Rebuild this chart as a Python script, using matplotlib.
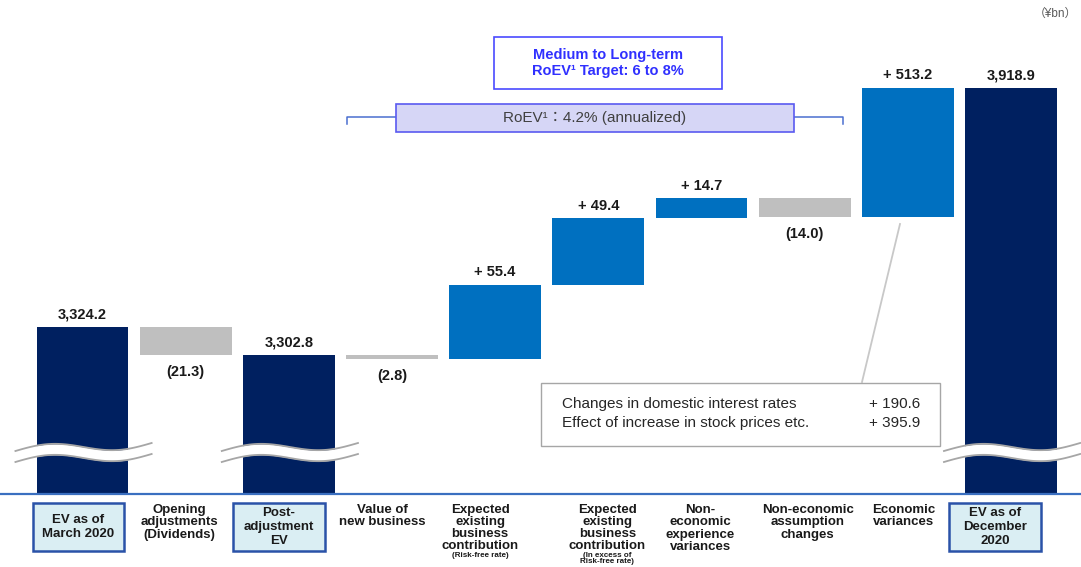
import numpy as np
import matplotlib
matplotlib.use('Agg')
import matplotlib.pyplot as plt
import matplotlib.transforms as mtransforms
from matplotlib.patches import Rectangle

plt.rcParams['font.family'] = ['Liberation Sans', 'Noto Sans CJK JP', 'DejaVu Sans']

# EV movement (¥bn)
categories = ['EV as of\nMarch 2020', 'Opening\nadjustments\n(Dividends)', 'Post-\nadjustment\nEV',
              'Value of\nnew business', 'Expected\nexisting\nbusiness\ncontribution',
              'Expected\nexisting\nbusiness\ncontribution', 'Non-\neconomic\nexperience\nvariances',
              'Non-economic\nassumption\nchanges', 'Economic\nvariances', 'EV as of\nDecember\n2020']
sub_notes = ['', '', '', '', '(Risk-free rate)', '(In excess of\nRisk-free rate)', '', '', '', '']
values = [3324.2, -21.3, 3302.8, -2.8, 55.4, 49.4, 14.7, -14.0, 513.2, 3918.9]
is_total = [True, False, True, False, False, False, False, False, False, True]
breakdown_labels = ['Changes in domestic interest rates', 'Effect of increase in stock prices etc.']
breakdown_values = [190.6, 395.9]

W, H = 1081, 567
NAVY = '#002060'
BLUE = '#0070c0'
GREY = '#bfbfbf'

# waterfall bottoms / heights
bottoms, heights, colors = [], [], []
level = 0.0
for v, tot in zip(values, is_total):
    if tot:
        bottoms.append(0.0)
        heights.append(v)
        colors.append(NAVY)
        level = v
    else:
        bottoms.append(level if v >= 0 else level + v)
        heights.append(abs(v))
        colors.append(BLUE if v >= 0 else GREY)
        level += v

# broken axis: squeezed below the break and squeezed again for the big jump
knots_v = np.array([-20000.0, 0.0, 3228.7, 3419.6, 3918.8, 8000.0])
knots_d = np.array([-241.6, 0.0, 39.0, 295.7, 406.3, 1310.7])


def fwd(v):
    return np.interp(v, knots_v, knots_d)


def inv(d):
    return np.interp(d, knots_d, knots_v)


def P(x, y):
    # position on the canvas in pixels -> axes fraction
    return x / W, 1 - y / H


fig = plt.figure(figsize=(W / 100, H / 100), dpi=100)
ax = fig.add_axes([0, 0, 1, 1])
ax.set_yscale('function', functions=(fwd, inv))
ax.axis('off')

x = np.arange(len(values))
bw = 0.89
ax.bar(x, heights, bottom=bottoms, width=bw, color=colors, zorder=2)
ax.axhline(0, color='#3a6fc0', lw=1.6, zorder=3)

# value labels
for i, (v, tot) in enumerate(zip(values, is_total)):
    top = bottoms[i] + heights[i]
    if tot or v >= 0:
        txt = f'{v:,.1f}' if tot else f'+ {v:.1f}'
        ax.annotate(txt, (x[i], top), xytext=(0, 4), textcoords='offset points',
                    ha='center', va='bottom', fontsize=10.5, fontweight='bold', color='#1a1a1a')
    else:
        ax.annotate(f'({-v:.1f})', (x[i], bottoms[i]), xytext=(0, -7), textcoords='offset points',
                    ha='center', va='top', fontsize=10.5, fontweight='bold', color='#1a1a1a')

# break marks on the total bars
trans = mtransforms.blended_transform_factory(ax.transData, ax.transAxes)
t = np.linspace(0, 1, 80)
for i, tot in enumerate(is_total):
    if not tot:
        continue
    xs = x[i] - 0.65 + 1.32 * t
    ytop = 451 - 8 * t - 5 * np.sin(2 * np.pi * t)
    ybot = ytop + 11
    ax.fill_between(xs, 1 - ytop / H, 1 - ybot / H, transform=trans, color='white', lw=0, zorder=4)
    ax.plot(xs, 1 - ytop / H, transform=trans, color='#a6a6a6', lw=1.3, zorder=5)
    ax.plot(xs, 1 - ybot / H, transform=trans, color='#a6a6a6', lw=1.3, zorder=5)

# category labels
label_shift_px = [-4, -6, -10, -10, -15, 9, -1, 3, -4, -16]
for i, lab in enumerate(categories):
    cx = x[i] + label_shift_px[i] / 103.17
    if is_total[i]:
        ax.add_patch(Rectangle((cx - bw / 2, 1 - 551 / H), bw, 48 / H, transform=trans,
                               facecolor='#daeef3', edgecolor='#2a52a8', lw=1.8, zorder=3))
        ax.text(cx, 1 - 527 / H, lab, transform=trans, ha='center', va='center',
                fontsize=9.5, fontweight='bold', color='#1a1a1a', linespacing=1.2, zorder=4)
    else:
        ax.text(cx, 1 - 504 / H, lab, transform=trans, ha='center', va='top',
                fontsize=9.5, fontweight='bold', color='#1a1a1a',
                linespacing=1.0 if sub_notes[i] else 1.05)
    if sub_notes[i]:
        ax.text(cx, 1 - 552 / H, sub_notes[i], transform=trans, ha='center', va='top',
                fontsize=5.8, fontweight='bold', color='#1a1a1a', linespacing=0.85)

# target box
ax.add_patch(Rectangle(P(494, 89), 228 / W, 52 / H, transform=ax.transAxes,
                       facecolor='white', edgecolor='#4a4aff', lw=1.2))
ax.text(*P(608, 63), 'Medium to Long-term\nRoEV¹ Target: 6 to 8%', transform=ax.transAxes,
        ha='center', va='center', fontsize=10.5, fontweight='bold', color='#3030ff', linespacing=1.15)

# RoEV bracket
ax.add_patch(Rectangle(P(396, 132), 398 / W, 28 / H, transform=ax.transAxes,
                       facecolor='#d6d6f6', edgecolor='#5a5af0', lw=1.2, zorder=3))
ax.text(*P(595, 118), 'RoEV¹：4.2% (annualized)', transform=ax.transAxes,
        ha='center', va='center', fontsize=11, color='#404040', zorder=4)
for xa, xb in [(347, 396), (843, 794)]:
    ax.plot([P(xa, 124)[0], P(xa, 117)[0], P(xb, 117)[0]],
            [P(xa, 124)[1], P(xa, 117)[1], P(xb, 117)[1]],
            transform=ax.transAxes, color='#4a6fd0', lw=1.1)

# economic variances breakdown
ax.plot([P(900, 224)[0], P(862, 382)[0]], [P(900, 224)[1], P(862, 382)[1]],
        transform=ax.transAxes, color='#c8c8c8', lw=1.3)
ax.add_patch(Rectangle(P(541, 446), 399 / W, 63 / H, transform=ax.transAxes,
                       facecolor='white', edgecolor='#a6a6a6', lw=1.0, zorder=3))
for k, (lab, val) in enumerate(zip(breakdown_labels, breakdown_values)):
    yy = 404 + 19 * k
    ax.text(*P(562, yy), lab, transform=ax.transAxes, ha='left', va='center',
            fontsize=11, color='#262626', zorder=4)
    ax.text(*P(920, yy), f'+ {val:.1f}', transform=ax.transAxes, ha='right', va='center',
            fontsize=11, color='#262626', zorder=4)

ax.text(*P(1055, 14), '（¥bn）', transform=ax.transAxes, ha='center', va='center',
        fontsize=8.5, color='#595959')

ax.set_xlim(-82.5 / 103.17, (W - 82.5) / 103.17)
ax.set_ylim(inv(-73), inv(494))

fig.savefig('out.png', dpi=100)
